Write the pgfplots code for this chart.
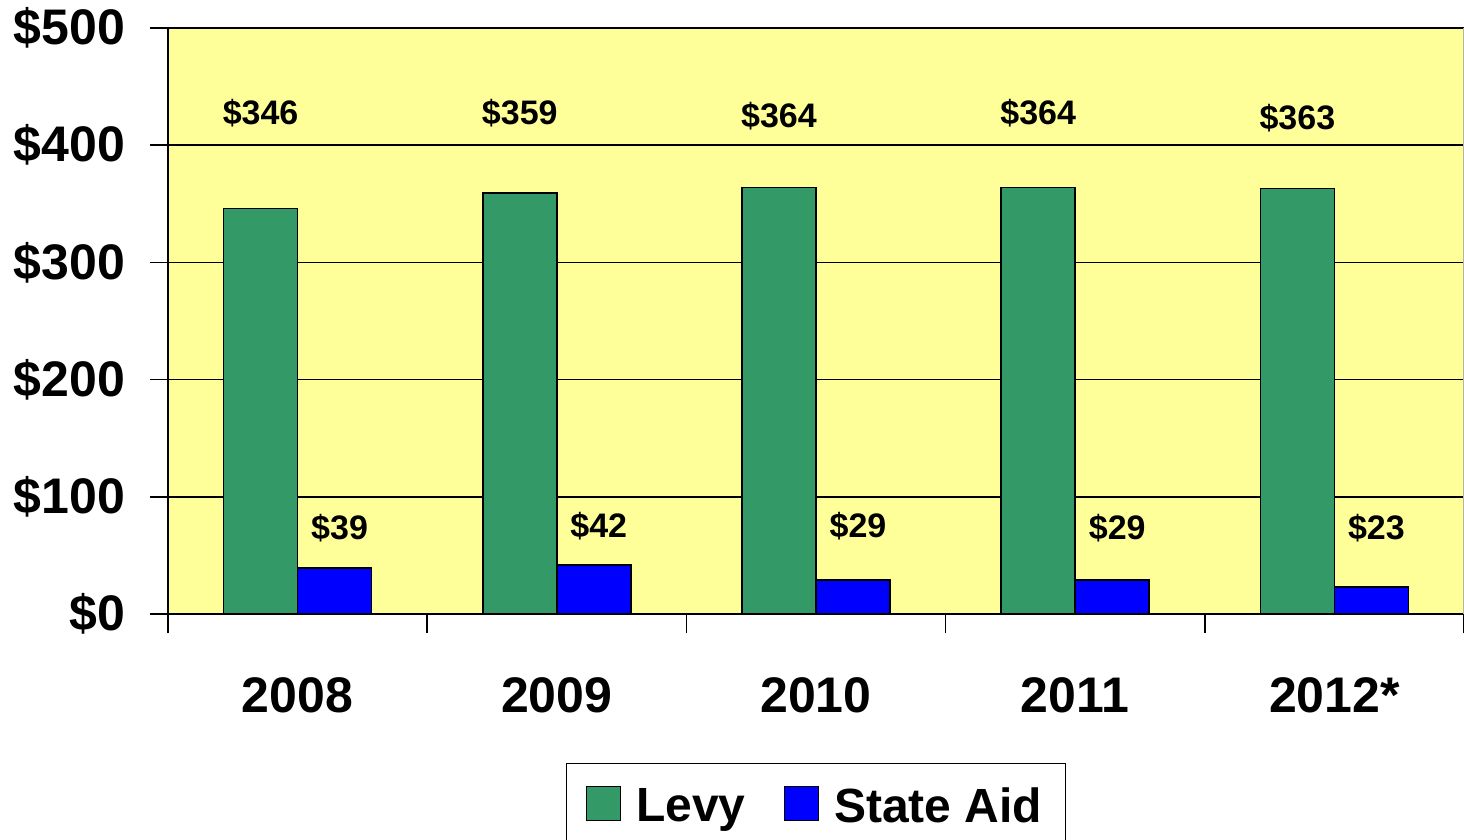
\documentclass[border=0pt]{standalone}
\usepackage{pgfplots}
\pgfplotsset{compat=1.18}
\usepackage{fontspec}
\setmainfont{Liberation Sans}
\definecolor{levy}{HTML}{339966}
\definecolor{aid}{HTML}{0000FF}
\definecolor{bg}{HTML}{FFFF99}
\begin{document}
\begin{tikzpicture}
\begin{axis}[
  name=ax,
  scale only axis,
  width=648pt, height=293pt,
  xmin=-0.5, xmax=4.5,
  ymin=0, ymax=500,
  axis x line*=bottom,
  axis y line*=left,
  axis line style={line width=0.8pt, black, -},
  axis background/.style={fill=bg},
  ytick={0,100,200,300,400,500},
  yticklabels={\$0,\$100,\$200,\$300,\$400,\$500},
  xtick={0,1,2,3,4},
  xticklabels={2008,2009,2010,2011,2012*},
  minor xtick={-0.5,0.5,1.5,2.5,3.5,4.5},
  major x tick style={draw=none},
  tick align=outside,
  major tick length=9pt,
  minor tick length=9.5pt,
  tick style={line width=0.8pt, black},
  ymajorgrids,
  grid style={line width=0.8pt, black},
  /pgf/number format/assume math mode=true,
  ticklabel style={font=\fontsize{25}{29}\selectfont\bfseries},
  xticklabel style={yshift=-19.5pt},
  yticklabel style={xshift=-9pt},
  ybar,
  bar width=37pt,
  legend style={at={(0.5,0)}, anchor=north, yshift=-74.5pt,
    draw=black, line width=0.6pt, inner xsep=9.5pt, inner ysep=10pt,
    font=\fontsize{24}{28}\selectfont\bfseries,
    /tikz/every even column/.append style={column sep=17pt}},
  legend columns=2,
  legend image code/.code={\draw[#1, line width=0.8pt] (0pt,-7pt) rectangle (17pt,10pt); \path (22.5pt,0pt);},
]
\addplot+[bar shift=-18.5pt, fill=levy, draw=black, line width=0.8pt]
  coordinates {(0,346) (1,359) (2,364) (3,364) (4,363)};
\addplot+[bar shift=18.5pt, fill=aid, draw=black, line width=0.8pt]
  coordinates {(0,39) (1,42) (2,29) (3,29) (4,23)};
\legend{Levy, State Aid}
\draw[gray!60, line width=0.8pt] (rel axis cs:1,0) -- (rel axis cs:1,1);
\begin{scope}[every node/.style={font=\fontsize{17}{20}\selectfont\bfseries}]
\node[xshift=-18.5pt] at (axis cs:0,427.5) {\$346};
\node[xshift=-18.5pt] at (axis cs:1,427.5) {\$359};
\node[xshift=-18.5pt] at (axis cs:2,425) {\$364};
\node[xshift=-18.5pt] at (axis cs:3,427.5) {\$364};
\node[xshift=-18.5pt] at (axis cs:4,423) {\$363};
\node[xshift=21pt] at (axis cs:0,73.4) {\$39};
\node[xshift=21pt] at (axis cs:1,75) {\$42};
\node[xshift=21pt] at (axis cs:2,75) {\$29};
\node[xshift=21pt] at (axis cs:3,73.4) {\$29};
\node[xshift=21pt] at (axis cs:4,73.4) {\$23};
\end{scope}
\end{axis}
\pgfresetboundingbox
\path[use as bounding box] ([shift={(-84pt,-112.5pt)}]ax.south west) rectangle ([shift={(0pt,14pt)}]ax.north east);
\end{tikzpicture}
\end{document}
